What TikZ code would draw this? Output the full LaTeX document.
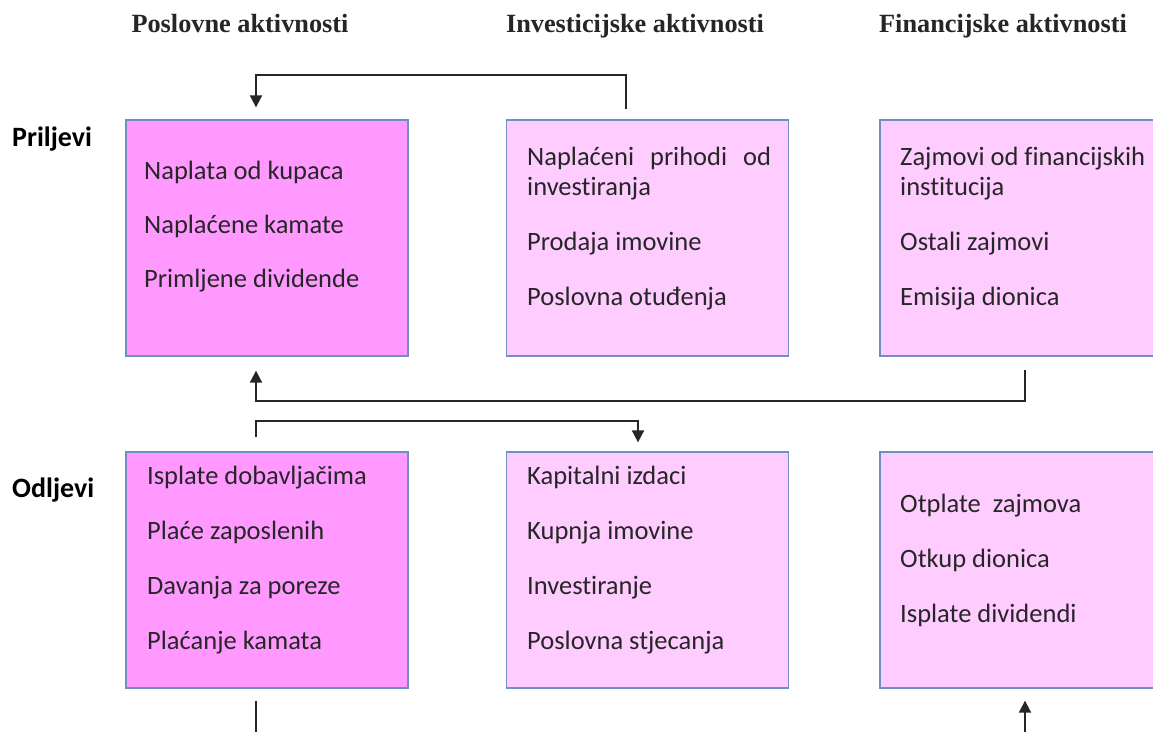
\documentclass[tikz,border=0pt]{standalone}
\usepackage{fontspec}
\setmainfont{Liberation Serif}
\newfontfamily\carlito[Ligatures=CommonOff]{Carlito}
\usetikzlibrary{positioning,arrows.meta}
\definecolor{boxdark}{HTML}{FF99FF}
\definecolor{boxlight}{HTML}{FFCCFF}
\definecolor{boxline}{HTML}{7090C4}
\definecolor{txt}{HTML}{262626}

\tikzset{
  box/.style={draw=boxline, line width=1.3pt, minimum width=282pt, minimum height=236pt, inner sep=0pt},
  item/.style={font=\carlito\fontsize{26.5}{30}\selectfont, text=txt, align=left, inner sep=0pt, anchor=base west},
  head/.style={font=\bfseries\fontsize{26.3}{30}\selectfont, text=txt, inner sep=0pt, anchor=base},
  side/.style={font=\carlito\bfseries\fontsize{28}{30}\selectfont, inner sep=0pt, anchor=base west},
  link/.style={line width=1.9pt, draw=black!85},
  flow/.style={link, -{Triangle[width=12pt,length=12pt]}},
}

\begin{document}
\begin{tikzpicture}[x=1pt,y=-1pt]
	%% page
	\useasboundingbox (0,0) rectangle (1153,731);
	\fill[white] (0,0) rectangle (1153,731);

	% column heads
	\node[head] (hpos) at (240,32) {Poslovne aktivnosti};
	\node[head] (hinv) at (635,32) {Investicijske aktivnosti};
	\node[head] (hfin) at (1003,32) {Financijske aktivnosti};

	% row heads
	\node[side] (rin) at (12,146) {Priljevi};
	\node[side] (rout) at (12,497) {Odljevi};

	% boxes
	\node[box, fill=boxdark] (pos1) at (267,238) {};
	\node[box, fill=boxlight] (inv1) at (647.5,238) {};
	\node[box, fill=boxlight] (fin1) at (1021,238) {};
	\node[box, fill=boxdark] (pos2) at (267,570) {};
	\node[box, fill=boxlight] (inv2) at (647.5,570) {};
	\node[box, fill=boxlight] (fin2) at (1021,570) {};

	% box texts (placed at the baseline of their last line)
	\node[item] (pos1t) at (144,287) {Naplata od kupaca\\[24pt]Naplaćene kamate\\[24pt]Primljene dividende};
	\node[item] (inv1t) at (527,305) {\makebox[244pt][s]{Naplaćeni prihodi od}\\investiranja\\[25pt]Prodaja imovine\\[25pt]Poslovna otuđenja};
	\node[item] (fin1t) at (900,305) {Zajmovi od financijskih\\institucija\\[25pt]Ostali zajmovi\\[25pt]Emisija dionica};
	\node[item] (pos2t) at (147,649) {Isplate dobavljačima\\[24.7pt]Plaće zaposlenih\\[24.7pt]Davanja za poreze\\[24.7pt]Plaćanje kamata};
	\node[item] (inv2t) at (527,649) {Kapitalni izdaci\\[24.7pt]Kupnja imovine\\[24.7pt]Investiranje\\[24.7pt]Poslovna stjecanja};
	\node[item] (fin2t) at (900,622) {Otplate\ \ zajmova\\[25pt]Otkup dionica\\[25pt]Isplate dividendi};

	% connectors
	\draw[flow] ([xshift=-21.5pt,yshift=10pt]inv1.north) -- ++(0,-34) -| ([xshift=-11pt,yshift=12pt]pos1.north);
	\draw[flow] ([xshift=4pt,yshift=-13pt]fin1.south) -- ++(0,31) -| ([xshift=-11pt,yshift=-14pt]pos1.south);
	\draw[flow] ([xshift=-11pt,yshift=14pt]pos2.north) -- ++(0,-16) -| ([xshift=-9.5pt,yshift=9pt]inv2.north);
	\coordinate (posend) at (256,740);
	\coordinate (finstart) at (1025,740);
	\draw[link] ([xshift=-11pt,yshift=-12pt]pos2.south) -- (posend);
	\draw[flow] (finstart) -- ([xshift=4pt,yshift=-12pt]fin2.south);
\end{tikzpicture}
\end{document}
